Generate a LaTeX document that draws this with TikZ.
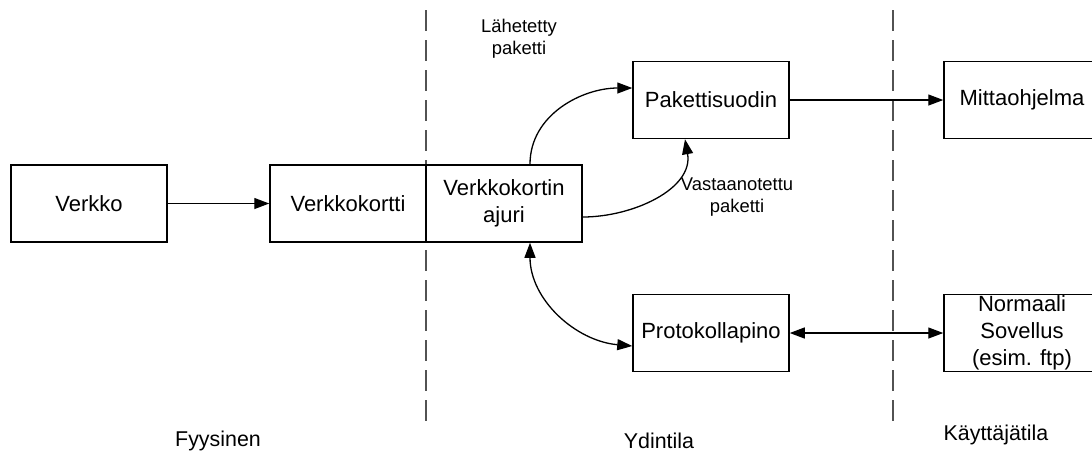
\documentclass[tikz,border=0pt]{standalone}
\usepackage{fontspec}
\setmainfont{Liberation Sans}
\usetikzlibrary{arrows.meta,calc}
\tikzset{
  box/.style={draw=black, line width=0.75pt, minimum width=78pt, minimum height=38.5pt,
    inner sep=0pt, align=center, font=\fontsize{11}{13.5}\selectfont},
  conn/.style={line width=0.65pt, -{Triangle[length=7.5pt,width=5.5pt]}},
  biconn/.style={line width=0.65pt, {Triangle[length=7.5pt,width=5.5pt]}-{Triangle[length=7.5pt,width=5.5pt]}},
  divider/.style={draw=black!68, line width=1pt, dash pattern=on 10.5pt off 4.5pt},
  note/.style={align=center, font=\fontsize{9.2}{11}\selectfont, inner sep=0pt},
  zone/.style={font=\fontsize{10.7}{13}\selectfont, inner sep=0pt}
}
\begin{document}
\begin{tikzpicture}[x=0.5pt, y=-0.5pt]
  \useasboundingbox (0,0) rectangle (1092,452);
  \clip (0,0) rectangle (1092,452);

  % boundaries between the layers
  \draw[divider] (426,10) -- (426,424);
  \draw[divider] (893,10) -- (893,424);

  % boxes
  \node[box] (verkko)  at (89,203.5)  {Verkko};
  \node[box] (kortti)  at (348,203.5) {Verkkokortti};
  \node[box] (ajuri)   at (504,203.5) {Verkkokortin\\ajuri};
  \node[box] (suodin)  at (711,100)   {Pakettisuodin};
  \node[box] (pino)    at (711,333)   {Protokollapino};
  \node[box] (mitta)   at (1022,100)  {Mittaohjelma};
  \node[box] (sovellus) at (1022,333) {Normaali\\Sovellus\\(esim. ftp)};

  % connectors
  \draw[conn] (verkko) -- (kortti);
  \draw[conn] ([xshift=13pt]ajuri.north) to[out=90, in=180] ([yshift=6pt]suodin.west);
  \draw[conn] ([yshift=-6.75pt]ajuri.east) to[out=0, in=-80] ([xshift=-13pt]suodin.south);
  \draw[biconn] ([xshift=13pt]ajuri.south) to[out=-90, in=175] ([yshift=-6.5pt]pino.west);
  \draw[conn] (suodin) -- (mitta);
  \draw[biconn] (pino) -- (sovellus);

  % labels
  \node[note] (lahetetty) at (519,39) {Lähetetty\\paketti};
  \node[note] (vastaan) at (737,197) {Vastaanotettu\\paketti};
  \node[zone] (fyys) at (218,441) {Fyysinen};
  \node[zone] (ydin) at (659,441) {Ydintila};
  \node[zone] (kayt) at (996,435) {Käyttäjätila};
\end{tikzpicture}
\end{document}
